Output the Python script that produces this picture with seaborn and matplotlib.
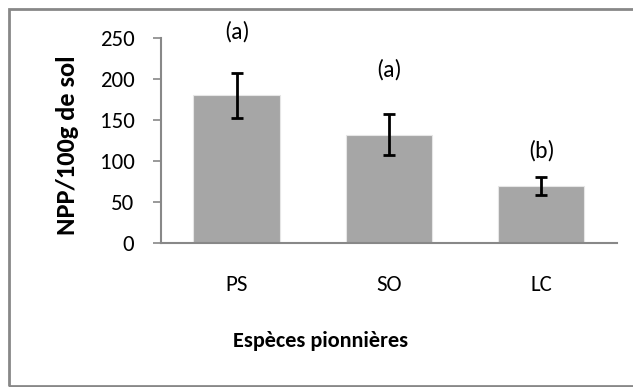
import matplotlib
matplotlib.use("Agg")
import matplotlib.pyplot as plt
import seaborn as sns
import pandas as pd
from matplotlib.patches import Rectangle
from matplotlib import font_manager

species = ["PS", "SO", "LC"]
npp = [180, 132, 70]
err = [27, 25, 11]
letters = ["(a)", "(a)", "(b)"]
letter_y = [258, 211, 113]
yticks = [0, 50, 100, 150, 200, 250]

sns.set_theme(style="white")
installed = {f.name for f in font_manager.fontManager.ttflist}
family = [f for f in ["Carlito", "Lato", "DejaVu Sans"] if f in installed]
plt.rcParams["font.family"] = family

df = pd.DataFrame({"species": species, "npp": npp})

fig = plt.figure(figsize=(6.33, 3.87), dpi=100)
ax = fig.add_axes([0.254, 0.372, 0.721, 0.530])

sns.barplot(data=df, x="species", y="npp", color="#a6a6a6", saturation=1,
            width=0.57, edgecolor="#e6e6e6", linewidth=0.8, ax=ax, errorbar=None)
ax.errorbar(range(len(species)), npp, yerr=err, fmt="none", ecolor="black",
            elinewidth=2, capsize=4.3, capthick=2, zorder=5)
for i, (lab, yy) in enumerate(zip(letters, letter_y)):
    ax.text(i, yy, lab, ha="center", va="center", fontsize=17, color="black")

ax.set_ylim(0, 250)
ax.set_xlim(-0.5, 2.5)
ax.set_yticks(yticks)
ax.set_yticklabels([str(v) for v in yticks], fontsize=16.5, color="black")
ax.set_xticks(range(len(species)))
ax.set_xticklabels(species, fontsize=16.5, color="black")
ax.tick_params(axis="y", length=6, width=1.2, color="#888888", direction="out", pad=13, left=True)
ax.tick_params(axis="x", length=0, pad=23)
for s in ["top", "right"]:
    ax.spines[s].set_visible(False)
for s in ["left", "bottom"]:
    ax.spines[s].set_color("#888888")
    ax.spines[s].set_linewidth(1.5)

ax.set_xlabel("Espèces pionnières", fontsize=16, fontweight="bold", color="black")
ax.set_ylabel("NPP/100g de sol", fontsize=19, fontweight="bold", color="black")
ax.xaxis.label.set_va("center")
ax.yaxis.label.set_va("center")
ax.xaxis.set_label_coords(0.351, -0.478)
ax.yaxis.set_label_coords(-0.204, 0.475)

fig.patches.append(Rectangle((9 / 633, 1.5 / 387), 1.2, 1 - 10.5 / 387,
                             transform=fig.transFigure, fill=False,
                             edgecolor="#888888", linewidth=2))

fig.savefig("out.png", dpi=100)
